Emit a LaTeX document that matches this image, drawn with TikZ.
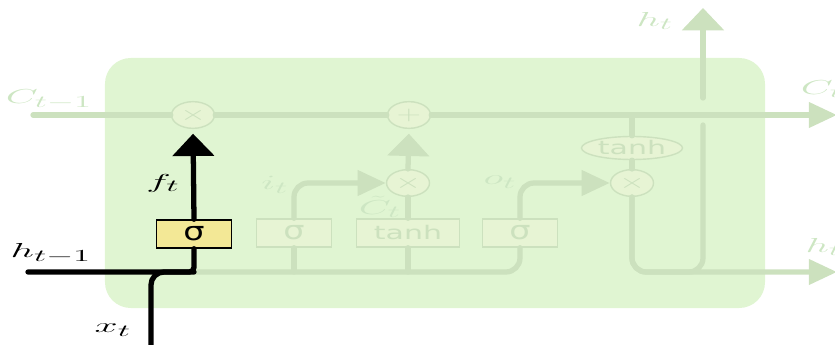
\documentclass[tikz,border=0pt]{standalone}
\usepackage{fontspec}
\usepackage{graphicx}
\setsansfont{DejaVu Sans}
\usetikzlibrary{arrows.meta,shapes.geometric}

\definecolor{cellbg}{RGB}{224,245,210}
\definecolor{faded}{RGB}{204,225,190}
\definecolor{fadedtext}{RGB}{205,230,195}
\definecolor{fadedfill}{RGB}{231,244,212}
\definecolor{gateyellow}{RGB}{243,232,150}

% stretched labels
\newcommand{\mlabel}[1]{\scalebox{2.05}[1]{$#1$}}
\newcommand{\slabel}[1]{\scalebox{1.6}[1]{\textsf{#1}}}
\newcommand{\siglabel}{\scalebox{1.3}[1]{\fontsize{22}{24}\selectfont\textsf{σ}}}
\newcommand{\oplabel}[1]{\scalebox{1.65}[1]{\fontsize{19}{20}\selectfont$#1$}}

\begin{document}
\begin{tikzpicture}[
	x=0.03cm, y=-0.03cm,
	wire/.style={line width=4.5pt, line cap=round},
	vhead/.style={-{Triangle[length=19pt,width=35pt]}},
	hhead/.style={-{Triangle[length=24pt,width=21pt]}},
	gate/.style={draw=faded, line width=1.3pt, fill=fadedfill, text=faded,
		minimum width=2.25cm, minimum height=0.84cm, inner sep=0pt,
		font=\fontsize{16}{18}\selectfont},
	pointop/.style={ellipse, draw=faded, line width=1.2pt, fill=fadedfill, text=faded,
		minimum width=1.29cm, minimum height=0.8cm, inner sep=0pt,
		font=\fontsize{16}{18}\selectfont},
	lbl/.style={inner sep=0pt, font=\fontsize{19}{21}\selectfont},
	ghost/.style={lbl, text=fadedtext}
]
\useasboundingbox (0,0) rectangle (835,345);

%% cell body
\node (cell) [fill=cellbg, rounded corners=22pt, minimum width=19.8cm,
	minimum height=7.5cm] at (435,183) {};

%% end points
\coordinate (cin) at (33,115);
\coordinate (cout) at (837,115);
\coordinate (hin) at (28,272);
\coordinate (xin) at (151,350);
\coordinate (hjoin) at (194,272);
\coordinate (ibr) at (294,272);
\coordinate (cbr) at (408,272);
\coordinate (ctap) at (632,115);
\coordinate (hbend) at (703,272);
\coordinate (hgap) at (703,125);
\coordinate (htop) at (703,98);
\coordinate (hup) at (703,8);
\coordinate (hout) at (837,272);

%% operations and gates
\node (fx) [pointop] at (193,115) {\oplabel{\times}};
\node (add) [pointop] at (409,115) {\oplabel{+}};
\node (ix) [pointop] at (408,183) {\oplabel{\times}};
\node (ox) [pointop] at (632,183) {\oplabel{\times}};
\node (ctanh) [pointop, minimum width=3.03cm, minimum height=0.69cm] at (632,148) {\slabel{tanh}};

\node (fgate) [gate, draw=black, fill=gateyellow, text=black] at (194,234) {\siglabel};
\node (igate) [gate] at (294,233) {\siglabel};
\node (cgate) [gate, minimum width=3.09cm] at (408,233) {\slabel{tanh}};
\node (ogate) [gate] at (520,233) {\siglabel};

%% faded connections
\begin{scope}[wire, draw=faded]
\draw (cin) -- (fx);
\draw (fx) -- (add);
\draw[hhead] (add) -- (cout);
\draw[rounded corners=12pt] (hjoin) -| (ogate.south);
\draw (ibr) -- (igate.south);
\draw (cbr) -- (cgate.south);
\draw[hhead, rounded corners=12pt] (igate.north) |- (ix.west);
\draw (cgate.north) -- (ix.south);
\draw[vhead, shorten >=4pt] (ix.north) -- (add.south);
\draw[hhead, rounded corners=12pt] (ogate.north) |- (ox.west);
\draw (ctap) -- (ctanh.north);
\draw (ctanh.south) -- (ox.north);
\draw[hhead, rounded corners=12pt] (ox.south) |- (hout);
\draw[rounded corners=12pt] (ox.south) |- (hbend) -- (hgap);
\draw[vhead] (htop) -- (hup);
\end{scope}

%% forget gate path
\begin{scope}[wire, draw=black]
\draw[rounded corners=4pt] (hin) -| (fgate.south);
\draw[rounded corners=11pt] (xin) |- (hjoin);
\draw[vhead, shorten >=4pt] (fgate.north) -- (fx.south);
\end{scope}

%% labels
\node (lcprev) [ghost] at (49,99) {\mlabel{C_{t-1}}};
\node (lcnext) [ghost] at (822,89) {\mlabel{C_t}};
\node (lhtop) [ghost] at (655,21) {\mlabel{h_t}};
\node (lhnext) [ghost] at (824,247) {\mlabel{h_t}};
\node (li) [ghost] at (275,185) {\mlabel{i_t}};
\node (lctil) [ghost] at (380,207) {\mlabel{\tilde{C}_t}};
\node (lo) [ghost] at (500,182) {\mlabel{o_t}};
\node (lf) [lbl] at (163,183) {\mlabel{f_t}};
\node (lhprev) [lbl] at (51,253) {\mlabel{h_{t-1}}};
\node (lx) [lbl] at (113,330) {\mlabel{x_t}};

\end{tikzpicture}
\end{document}
